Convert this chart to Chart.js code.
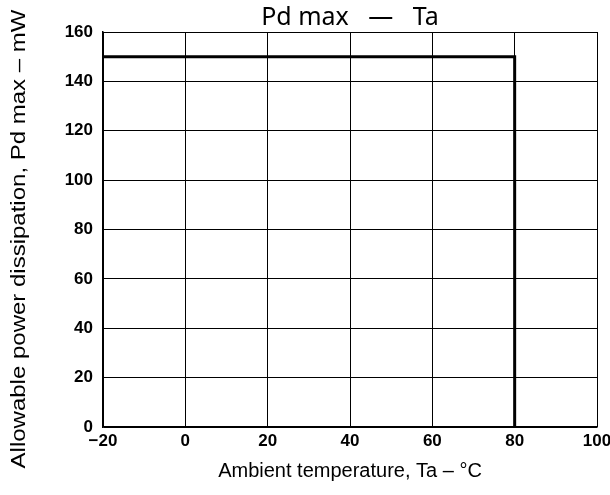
<!DOCTYPE html>
<html>
<head>
<meta charset="utf-8">
<script src="https://cdn.jsdelivr.net/npm/chart.js@4"></script>
<style>
html,body{margin:0;padding:0;background:#fff;}
#wrap{width:610px;height:495px;}
</style>
</head>
<body>
<div id="wrap"><canvas id="c" width="610" height="495"></canvas></div>
<script>
const titleText = 'Pd max   \u2014   Ta';
const xTitle = 'Ambient temperature, Ta \u2013 \u00b0C';
const yTitle = 'Allowable power dissipation, Pd max \u2013 mW';
const xTicks = [-20, 0, 20, 40, 60, 80, 100];
const yTicks = [0, 20, 40, 60, 80, 100, 120, 140, 160];
const tempValues = [-20, 80, 80];
const powerValues = [150, 150, 0];

const points = tempValues.map((t, i) => ({x: t, y: powerValues[i]}));
const tickFont = {family: 'Liberation Sans', size: 17, weight: 'bold'};

const textPlugin = {
  id: 'texts',
  afterDraw(chart) {
    const ctx = chart.ctx;
    const a = chart.chartArea;
    ctx.save();
    ctx.fillStyle = '#000';
    ctx.textAlign = 'center';
    ctx.textBaseline = 'middle';
    ctx.font = '25px "Noto Sans"';
    ctx.fillText(titleText, (a.left + a.right) / 2, 18);
    ctx.restore();

    ctx.save();
    ctx.fillStyle = '#000';
    ctx.translate(19, 239);
    ctx.rotate(-Math.PI / 2);
    ctx.scale(1.2, 1);
    ctx.textAlign = 'center';
    ctx.textBaseline = 'middle';
    ctx.font = '20px "Liberation Sans"';
    ctx.fillText(yTitle, 0, 0);
    ctx.restore();
  }
};

new Chart(document.getElementById('c'), {
  type: 'line',
  data: {
    datasets: [{
      data: points,
      borderColor: '#000',
      borderWidth: 3,
      pointRadius: 0,
      fill: false,
      tension: 0
    }]
  },
  plugins: [textPlugin],
  options: {
    responsive: false,
    animation: false,
    devicePixelRatio: 1,
    layout: {padding: {left: 0, right: 0, top: 32, bottom: 0}},
    plugins: {
      legend: {display: false},
      tooltip: {enabled: false},
      title: {display: false}
    },
    scales: {
      x: {
        type: 'linear',
        min: xTicks[0],
        max: xTicks[xTicks.length - 1],
        afterBuildTicks: s => { s.ticks = xTicks.map(v => ({value: v})); },
        afterFit: s => { s.height = 68; s.paddingRight = 13; s.paddingLeft = 0; },
        ticks: {color: '#000', font: tickFont, padding: 4, maxRotation: 0, callback: v => v < 0 ? '\u2212' + Math.abs(v) : v},
        grid: {color: '#000', lineWidth: 1, drawTicks: false},
        border: {color: '#000', width: 1.5},
        title: {display: true, text: xTitle, color: '#000', font: {family: 'Liberation Sans', size: 20}, padding: {top: 0, bottom: 12}}
      },
      y: {
        type: 'linear',
        min: yTicks[0],
        max: yTicks[yTicks.length - 1],
        afterBuildTicks: s => { s.ticks = yTicks.map(v => ({value: v})); },
        afterFit: s => { s.width = 103; },
        ticks: {color: '#000', font: tickFont, padding: 10},
        grid: {color: '#000', lineWidth: 1, drawTicks: false},
        border: {color: '#000', width: 1.5},
        title: {display: false, text: yTitle}
      }
    }
  }
});
</script>
</body>
</html>
